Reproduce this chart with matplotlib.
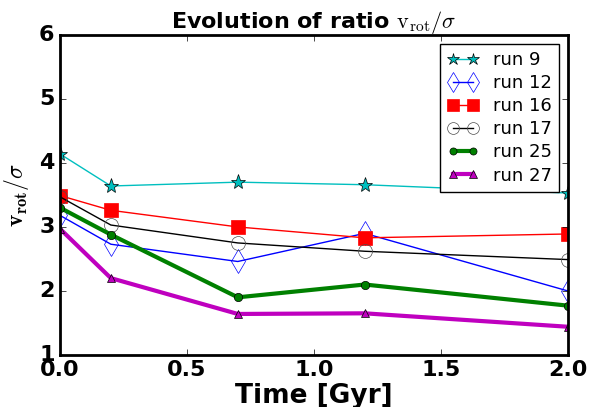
import matplotlib

matplotlib.use("Agg")
import matplotlib.pyplot as plt  # noqa: E402

plt.style.use("classic")
plt.rcParams["mathtext.fontset"] = "cm"

# time in Gyr and v_rot/sigma for each run
time = [0.0, 0.2, 0.7, 1.2, 2.0]
run9 = [4.14, 3.64, 3.70, 3.66, 3.53]
run12 = [3.18, 2.73, 2.46, 2.90, 2.00]
run16 = [3.49, 3.26, 3.00, 2.83, 2.89]
run17 = [3.47, 3.03, 2.75, 2.62, 2.49]
run25 = [3.30, 2.88, 1.90, 2.10, 1.77]
run27 = [2.97, 2.20, 1.64, 1.65, 1.44]

fig = plt.figure(figsize=(5.89, 4.07), dpi=100)
ax = fig.add_axes([0.102, 0.128, 0.862, 0.786])

ax.plot(time, run9, "c-*", ms=11, lw=1, label="run 9")
ax.plot(time, run12, "b-d", ms=12, mfc="none", mec="b", lw=1, label="run 12")
ax.plot(time, run16, "r-s", ms=10, mec="r", lw=1, label="run 16")
ax.plot(time, run17, "k-o", ms=10, mfc="none", mec="0.3", lw=1, label="run 17")
ax.plot(time, run25, "g-o", ms=6, lw=3, label="run 25")
ax.plot(time, run27, "m-^", ms=6, lw=3, label="run 27")

ax.set_xlim(0, 2.0)
ax.set_ylim(1, 6)
ax.set_xticks([0.0, 0.5, 1.0, 1.5, 2.0])
ax.set_yticks([1, 2, 3, 4, 5, 6])
for lab in ax.get_xticklabels() + ax.get_yticklabels():
    lab.set_fontweight("bold")
    lab.set_fontsize(16)
for s in ax.spines.values():
    s.set_linewidth(2)

ax.set_xlabel("Time [Gyr]", fontsize=19, fontweight="bold", labelpad=2)
ax.set_ylabel(r"$\mathbf{v_{rot}}/\sigma$", fontsize=17, labelpad=6)
ax.set_title(r"Evolution of ratio $\mathrm{v_{rot}}/\sigma$", fontsize=16,
             fontweight="bold", y=1.0)
ax.legend(loc="upper right", numpoints=2, fontsize=13, borderaxespad=0.5,
          labelspacing=0.28, handlelength=1.7, handletextpad=0.8,
          markerscale=0.85)

fig.savefig("out.png", dpi=100)
